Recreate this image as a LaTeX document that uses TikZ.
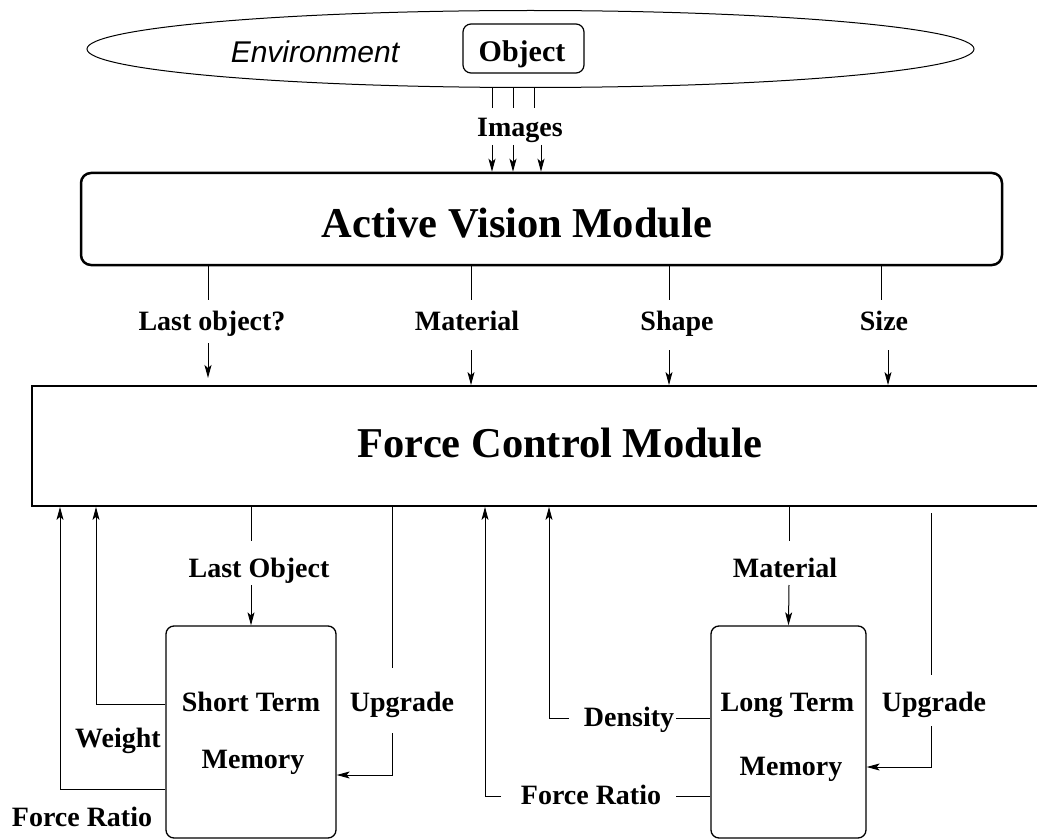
\documentclass[tikz,border=0pt]{standalone}
\usepackage{fontspec}
\setmainfont{Liberation Serif}
\newfontfamily\envfont{Liberation Sans}
\usetikzlibrary{arrows.meta,shapes.geometric}
\begin{document}
\begin{tikzpicture}[x=1pt,y=-1pt,
  lbl/.style={font=\fontsize{28}{30}\selectfont\bfseries, inner sep=0pt, anchor=base},
  big/.style={font=\fontsize{42.5}{46}\selectfont\bfseries, inner sep=0pt, anchor=base},
  ln/.style={line width=1pt},
  arr/.style={line width=1pt, -{Stealth[length=13pt,width=7pt,inset=3pt]}},
  membox/.style={draw, rounded corners=8pt, line width=1.3pt, inner sep=0pt}]
\useasboundingbox (0,0) rectangle (1037,840);
\clip (0,0) rectangle (1037,840);

% Environment
\node[ellipse, draw, line width=1pt, minimum width=887pt, minimum height=77pt, inner sep=0pt] (env) at (530.5,49) {};
\node[font=\envfont\itshape\fontsize{30}{32}\selectfont, inner sep=0pt, anchor=base] (envlbl) at (315,63) {Environment};
\node[draw, rounded corners=8pt, line width=1.2pt, minimum width=121pt, minimum height=49pt, inner sep=0pt] (obj) at (523.5,48.5) {};
\node[font=\fontsize{30}{32}\selectfont\bfseries, inner sep=0pt, anchor=base] (objtxt) at (522,62) {Object};

% Images
\coordinate (i1) at (492,108); \coordinate (i2) at (513,108); \coordinate (i3) at (534,108);
\coordinate (j1) at (492,145); \coordinate (j2) at (513,145); \coordinate (j3) at (541,145);
\node[lbl] (images) at (520,137) {Images};

% Active Vision Module
\node[draw, rounded corners=10pt, line width=2.5pt, minimum width=921pt, minimum height=92pt, inner sep=0pt] (avm) at (541.5,219) {};
\node[big] (avmtxt) at (517,237) {Active Vision Module};

\draw[ln] (env.south -| i1) -- (i1);
\draw[ln] (env.south -| i2) -- (i2);
\draw[ln] (env.south -| i3) -- (i3);
\draw[arr] (j1) -- (j1 |- avm.north);
\draw[arr] (j2) -- (j2 |- avm.north);
\draw[arr] (j3) -- (j3 |- avm.north);

% Force Control Module
\node[draw, line width=1.8pt, minimum width=1023pt, minimum height=120pt, inner sep=0pt] (fcm) at (543.5,446) {};
\node[big] (fcmtxt) at (560,457) {Force Control Module};

% AVM -> FCM
\coordinate (a1) at (208,300); \coordinate (b1) at (208,343); \coordinate (e1) at (208,378);
\coordinate (a2) at (471,300); \coordinate (b2) at (471,350);
\coordinate (a3) at (669,300); \coordinate (b3) at (669,350);
\coordinate (a4) at (881,300); \coordinate (b4) at (888,350);
\draw[ln] (a1 |- avm.south) -- (a1);
\draw[ln] (a2 |- avm.south) -- (a2);
\draw[ln] (a3 |- avm.south) -- (a3);
\draw[ln] (a4 |- avm.south) -- (a4);
\node[lbl] (lastq) at (212,330) {Last object?};
\node[lbl] (mat1) at (467,330) {Material};
\node[lbl] (shape) at (677,330) {Shape};
\node[lbl] (size) at (884,330) {Size};
\draw[arr] (b1) -- (e1);
\draw[arr] (b2) -- (b2 |- fcm.north);
\draw[arr] (b3) -- (b3 |- fcm.north);
\draw[arr] (b4) -- (b4 |- fcm.north);

% Memory boxes
\node[membox, minimum width=170pt, minimum height=212pt] (stm) at (251,732) {};
\node[lbl] (stm1) at (251,711) {Short Term};
\node[lbl] (stm2) at (253,768) {Memory};
\node[membox, minimum width=155pt, minimum height=212pt] (ltm) at (788.5,732) {};
\node[lbl] (ltm1) at (787.5,711) {Long Term};
\node[lbl] (ltm2) at (791,775) {Memory};

% Short term connections
\coordinate (fr1) at (60,789);
\coordinate (w1) at (96,704);
\draw[arr] (stm.west |- fr1) -- (fr1) -- (fr1 |- fcm.south);
\draw[arr] (stm.west |- w1) -- (w1) -- (w1 |- fcm.south);
\node[lbl] (weight) at (118,747) {Weight};
\node[lbl] (frl) at (82,826) {Force Ratio};

\coordinate (lo1) at (251,541); \coordinate (lo2) at (251,585);
\draw[ln] (lo1 |- fcm.south) -- (lo1);
\node[lbl] (lastobj) at (259,577) {Last Object};
\draw[arr] (lo2) -- (stm.north);

\coordinate (u1) at (392,668); \coordinate (u2) at (392,733); \coordinate (u3) at (392,775);
\draw[ln] (u1 |- fcm.south) -- (u1);
\node[lbl] (upg1) at (402,711) {Upgrade};
\draw[arr] (u2) -- (u3) -- (stm.east |- u3);

% Long term connections
\coordinate (fr2) at (485,796); \coordinate (fr2a) at (501,796); \coordinate (fr2b) at (676,796);
\draw[arr] (fr2a) -- (fr2) -- (fr2 |- fcm.south);
\draw[ln] (fr2b) -- (ltm.west |- fr2b);
\node[lbl] (frr) at (591,804) {Force Ratio};

\coordinate (d1) at (549,718); \coordinate (d1a) at (569,718); \coordinate (d1b) at (676,718);
\draw[arr] (d1a) -- (d1) -- (d1 |- fcm.south);
\draw[ln] (d1b) -- (ltm.west |- d1b);
\node[lbl] (dens) at (629,726) {Density};

\coordinate (m1) at (789,541); \coordinate (m2) at (789,585);
\draw[ln] (m1 |- fcm.south) -- (m1);
\node[lbl] (mat2) at (785,577) {Material};
\draw[arr] (m2) -- (ltm.north);

\coordinate (v0) at (931,513); \coordinate (v1) at (931,675); \coordinate (v2) at (931,726); \coordinate (v3) at (931,767);
\draw[ln] (v0) -- (v1);
\node[lbl] (upg2) at (934,711) {Upgrade};
\draw[arr] (v2) -- (v3) -- (ltm.east |- v3);
\end{tikzpicture}
\end{document}
